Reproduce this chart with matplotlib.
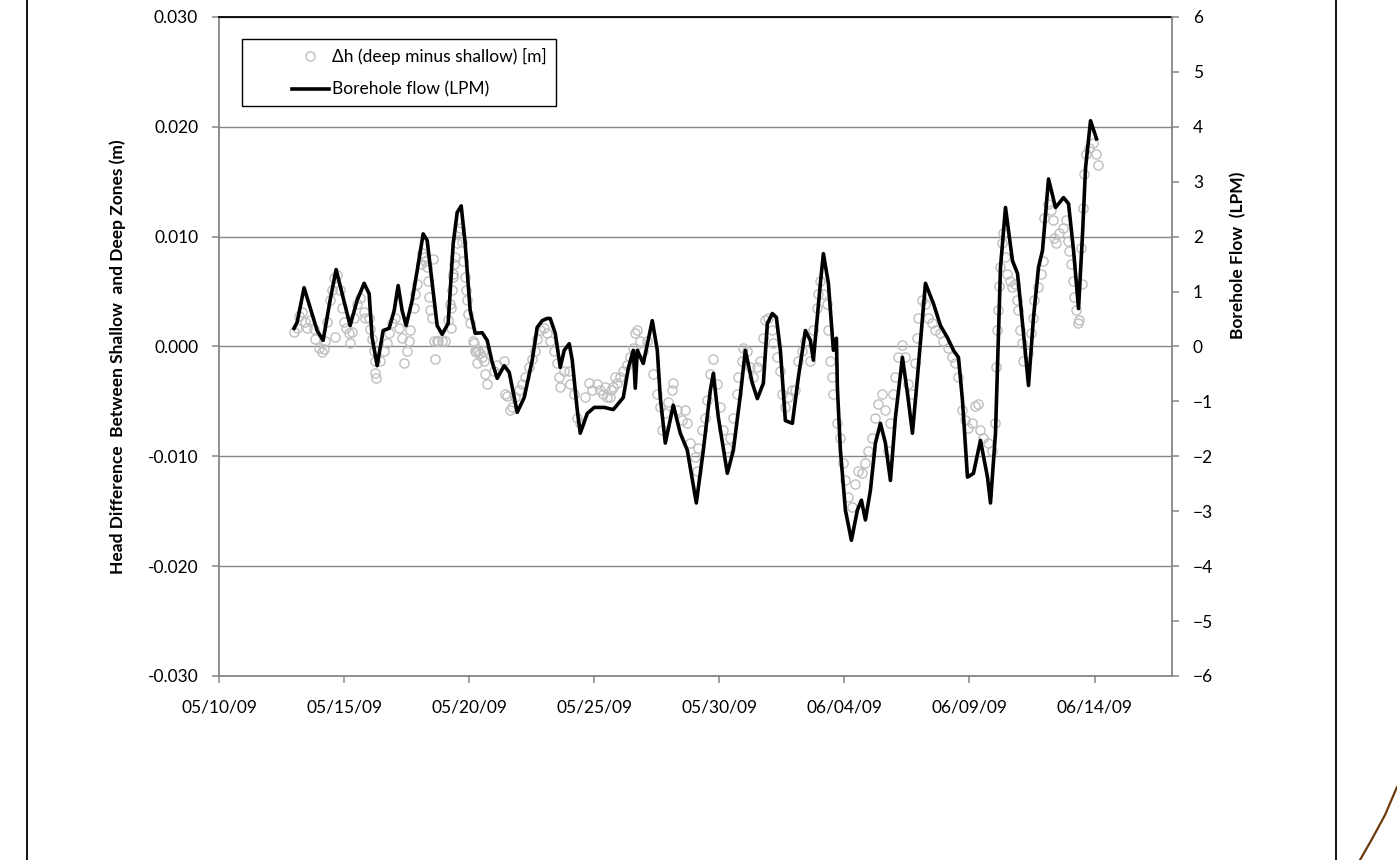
import numpy as np
import pandas as pd
import matplotlib
matplotlib.use("Agg")
import matplotlib.pyplot as plt
import matplotlib.dates as mdates
from matplotlib.lines import Line2D
from matplotlib.legend_handler import HandlerLine2D

plt.rcParams['font.family'] = ['Lato', 'DejaVu Sans']
plt.rcParams['font.size'] = 12

start = pd.Timestamp('2009-05-10')

# borehole flow meter, days after 05/10/09 and LPM
flow_day = [3.00, 3.12, 3.40, 3.64, 3.92, 4.16, 4.44, 4.68, 4.92, 5.24, 5.52, 5.80,
            6.00, 6.12, 6.32, 6.56, 6.80, 7.00, 7.16, 7.32, 7.48, 7.72, 7.92, 8.16,
            8.32, 8.52, 8.72, 8.92, 9.16, 9.36, 9.52, 9.68, 9.84, 10.04, 10.24, 10.52,
            10.72, 10.92, 11.12, 11.40, 11.60, 11.92, 12.20, 12.52, 12.72, 12.92, 13.12, 13.24,
            13.44, 13.64, 13.80, 14.00, 14.12, 14.32, 14.44, 14.72, 15.00, 15.40, 15.76, 16.16,
            16.36, 16.56, 16.64, 16.72, 16.96, 17.32, 17.52, 17.64, 17.84, 18.16, 18.44, 18.72,
            19.08, 19.36, 19.64, 19.76, 19.96, 20.32, 20.56, 20.84, 21.04, 21.32, 21.52, 21.76,
            21.92, 22.12, 22.28, 22.44, 22.64, 22.92, 23.16, 23.44, 23.64, 23.76, 24.04, 24.16,
            24.36, 24.56, 24.68, 24.72, 24.84, 25.04, 25.28, 25.52, 25.68, 25.84, 26.04, 26.24,
            26.44, 26.64, 26.84, 27.04, 27.32, 27.52, 27.72, 27.92, 28.24, 28.56, 28.84, 29.12,
            29.36, 29.56, 29.72, 29.92, 30.16, 30.44, 30.72, 30.84, 31.04, 31.24, 31.44, 31.72,
            31.92, 32.16, 32.36, 32.56, 32.76, 32.92, 33.16, 33.44, 33.76, 33.96, 34.16, 34.36,
            34.52, 34.64, 34.84, 35.08]
flow_lpm = [0.33, 0.44, 1.07, 0.71, 0.29, 0.11, 0.84, 1.40, 0.96, 0.38, 0.84, 1.15,
            0.96, 0.16, -0.35, 0.29, 0.33, 0.65, 1.11, 0.65, 0.38, 0.84, 1.38, 2.05,
            1.93, 1.15, 0.38, 0.22, 0.42, 1.87, 2.44, 2.56, 1.87, 0.65, 0.24, 0.25,
            0.11, -0.29, -0.58, -0.35, -0.47, -1.20, -0.93, -0.25, 0.35, 0.47, 0.51, 0.51,
            0.24, -0.38, -0.07, 0.05, -0.25, -1.16, -1.58, -1.22, -1.11, -1.11, -1.15, -0.93,
            -0.40, -0.07, -0.76, -0.07, -0.31, 0.47, -0.07, -0.93, -1.76, -1.07, -1.58, -1.89,
            -2.85, -1.89, -0.80, -0.49, -1.29, -2.31, -1.89, -0.89, -0.07, -0.67, -0.95, -0.67,
            0.42, 0.60, 0.53, -0.07, -1.35, -1.40, -0.56, 0.29, 0.11, -0.25, 1.15, 1.69,
            1.15, -0.07, 0.15, -0.75, -1.89, -2.98, -3.53, -2.98, -2.80, -3.16, -2.62, -1.76,
            -1.40, -1.76, -2.44, -1.29, -0.20, -0.85, -1.58, -0.56, 1.15, 0.78, 0.38, 0.16,
            -0.07, -0.20, -0.98, -2.38, -2.31, -1.71, -2.38, -2.85, -1.58, 1.44, 2.53, 1.56,
            1.33, 0.24, -0.71, 0.53, 1.44, 1.75, 3.05, 2.53, 2.71, 2.60, 1.75, 0.69,
            2.05, 3.25, 4.11, 3.78]

# head difference deep minus shallow, days after 05/10/09 and metres
dh_day = [3.00, 3.12, 3.20, 3.32, 3.44, 3.52, 3.64, 3.80, 3.84, 4.00, 4.12, 4.20,
          4.24, 4.32, 4.44, 4.52, 4.60, 4.64, 4.72, 4.84, 4.92, 5.00, 5.08, 5.20,
          5.24, 5.32, 5.40, 5.52, 5.64, 5.80, 5.84, 6.00, 6.04, 6.12, 6.20, 6.22,
          6.24, 6.28, 6.44, 6.60, 6.72, 6.80, 6.92, 7.04, 7.20, 7.32, 7.40, 7.52,
          7.60, 7.64, 7.80, 7.84, 7.92, 8.08, 8.12, 8.20, 8.24, 8.32, 8.36, 8.40,
          8.44, 8.52, 8.56, 8.58, 8.64, 8.72, 8.76, 8.92, 9.04, 9.16, 9.24, 9.26,
          9.28, 9.32, 9.34, 9.36, 9.38, 9.44, 9.52, 9.56, 9.64, 9.72, 9.76, 9.84,
          9.88, 9.92, 9.96, 10.04, 10.16, 10.20, 10.24, 10.26, 10.32, 10.36, 10.44, 10.52,
          10.56, 10.60, 10.64, 10.72, 11.00, 11.12, 11.40, 11.44, 11.52, 11.64, 11.72, 11.84,
          12.00, 12.12, 12.24, 12.40, 12.52, 12.64, 12.72, 12.84, 13.00, 13.12, 13.24, 13.40,
          13.52, 13.60, 13.64, 13.80, 14.00, 14.04, 14.20, 14.32, 14.44, 14.64, 14.80, 14.92,
          15.12, 15.24, 15.36, 15.44, 15.52, 15.64, 15.66, 15.76, 15.84, 15.92, 16.04, 16.16,
          16.32, 16.44, 16.56, 16.64, 16.72, 16.84, 16.96, 17.12, 17.36, 17.52, 17.64, 17.72,
          17.84, 17.96, 18.12, 18.16, 18.32, 18.52, 18.64, 18.72, 18.84, 19.04, 19.12, 19.16,
          19.32, 19.44, 19.52, 19.64, 19.76, 19.92, 20.04, 20.16, 20.32, 20.44, 20.56, 20.72,
          20.76, 20.92, 20.96, 21.12, 21.24, 21.36, 21.52, 21.64, 21.76, 21.84, 21.96, 22.12,
          22.16, 22.32, 22.44, 22.52, 22.64, 22.76, 22.92, 23.04, 23.16, 23.32, 23.44, 23.64,
          23.76, 23.92, 23.96, 24.04, 24.16, 24.32, 24.36, 24.44, 24.52, 24.56, 24.72, 24.84,
          24.96, 25.04, 25.16, 25.32, 25.44, 25.56, 25.72, 25.84, 25.96, 26.12, 26.24, 26.36,
          26.52, 26.64, 26.76, 26.84, 26.96, 27.04, 27.16, 27.32, 27.44, 27.56, 27.72, 27.84,
          27.92, 27.96, 28.12, 28.24, 28.36, 28.52, 28.64, 28.84, 28.96, 29.16, 29.32, 29.44,
          29.56, 29.72, 29.84, 29.96, 30.12, 30.24, 30.36, 30.44, 30.56, 30.76, 30.92, 31.04,
          31.06, 31.12, 31.16, 31.18, 31.24, 31.32, 31.36, 31.44, 31.52, 31.64, 31.72, 31.84,
          31.92, 31.96, 32.04, 32.12, 32.16, 32.32, 32.44, 32.52, 32.56, 32.72, 32.84, 32.92,
          32.96, 33.12, 33.24, 33.32, 33.36, 33.44, 33.56, 33.72, 33.84, 33.92, 33.96, 34.04,
          34.12, 34.16, 34.24, 34.32, 34.36, 34.44, 34.50, 34.52, 34.56, 34.64, 34.76, 34.92,
          35.04, 35.12]
dh_m = [0.0013, 0.0017, 0.0028, 0.0031, 0.0022, 0.0017, 0.0024, 0.0016, 0.0007, -0.0001, -0.0005, -0.0002,
        0.0005, 0.0022, 0.0042, 0.0051, 0.0062, 0.0009, 0.0065, 0.0051, 0.0035, 0.0022, 0.0017, 0.0012,
        0.0003, 0.0013, 0.0026, 0.0039, 0.0044, 0.0031, 0.0026, 0.0026, 0.0016, 0.0007, -0.0004, -0.0013,
        -0.0024, -0.0029, -0.0013, -0.0004, 0.0003, 0.0012, 0.0021, 0.0026, 0.0017, 0.0008, -0.0015, -0.0004,
        0.0005, 0.0015, 0.0035, 0.0048, 0.0057, 0.0075, 0.0085, 0.0081, 0.0078, 0.0072, 0.0060, 0.0045,
        0.0033, 0.0026, 0.0080, 0.0005, -0.0011, 0.0005, 0.0005, 0.0005, 0.0005, 0.0024, 0.0039, 0.0017,
        0.0035, 0.0051, 0.0063, 0.0066, 0.0075, 0.0081, 0.0094, 0.0105, 0.0108, 0.0095, 0.0078, 0.0063,
        0.0051, 0.0042, 0.0030, 0.0021, 0.0005, 0.0003, -0.0004, -0.0005, -0.0015, -0.0004, -0.0006, -0.0010,
        -0.0004, -0.0013, -0.0025, -0.0034, -0.0022, -0.0017, -0.0013, -0.0043, -0.0045, -0.0058, -0.0055, -0.0046,
        -0.0040, -0.0034, -0.0028, -0.0019, -0.0011, -0.0004, 0.0007, 0.0015, 0.0017, 0.0012, 0.0005, -0.0004,
        -0.0015, -0.0028, -0.0037, -0.0022, -0.0022, -0.0034, -0.0043, -0.0065, -0.0070, -0.0046, -0.0033, -0.0040,
        -0.0034, -0.0040, -0.0043, -0.0037, -0.0046, -0.0046, -0.0040, -0.0037, -0.0028, -0.0033, -0.0028, -0.0022,
        -0.0017, -0.0010, -0.0001, 0.0012, 0.0015, 0.0005, -0.0004, 0.0005, -0.0025, -0.0043, -0.0055, -0.0076,
        -0.0061, -0.0051, -0.0040, -0.0033, -0.0058, -0.0067, -0.0058, -0.0070, -0.0088, -0.0101, -0.0113, -0.0092,
        -0.0076, -0.0065, -0.0049, -0.0025, -0.0011, -0.0034, -0.0055, -0.0076, -0.0092, -0.0083, -0.0065, -0.0043,
        -0.0028, -0.0013, -0.0001, -0.0004, -0.0019, -0.0028, -0.0019, -0.0013, 0.0008, 0.0024, 0.0026, 0.0015,
        0.0003, -0.0010, -0.0022, -0.0043, -0.0055, -0.0046, -0.0040, -0.0040, -0.0013, -0.0004, 0.0005, -0.0013,
        0.0015, 0.0035, 0.0048, 0.0060, 0.0048, 0.0039, 0.0015, -0.0013, -0.0028, -0.0043, -0.0070, -0.0083,
        -0.0106, -0.0122, -0.0137, -0.0146, -0.0125, -0.0113, -0.0115, -0.0106, -0.0095, -0.0083, -0.0065, -0.0052,
        -0.0043, -0.0058, -0.0095, -0.0070, -0.0043, -0.0028, -0.0010, 0.0001, -0.0010, -0.0034, -0.0043, -0.0015,
        0.0008, 0.0026, 0.0042, 0.0039, 0.0026, 0.0021, 0.0015, 0.0012, 0.0005, -0.0001, -0.0010, -0.0015,
        -0.0028, -0.0058, -0.0067, -0.0074, -0.0070, -0.0054, -0.0052, -0.0076, -0.0083, -0.0088, -0.0095, -0.0070,
        -0.0019, 0.0015, 0.0033, 0.0055, 0.0072, 0.0094, 0.0103, 0.0081, 0.0066, 0.0060, 0.0054, 0.0057,
        0.0042, 0.0033, 0.0015, 0.0003, -0.0013, -0.0006, 0.0012, 0.0026, 0.0042, 0.0054, 0.0066, 0.0078,
        0.0117, 0.0130, 0.0124, 0.0115, 0.0099, 0.0094, 0.0103, 0.0108, 0.0115, 0.0096, 0.0087, 0.0075,
        0.0060, 0.0045, 0.0033, 0.0021, 0.0024, 0.0090, 0.0057, 0.0126, 0.0157, 0.0175, 0.0181, 0.0185,
        0.0175, 0.0165]

dh_ticks = [-0.03, -0.02, -0.01, 0.0, 0.01, 0.02, 0.03]
flow_ticks = list(range(-6, 7))
date_ticks = pd.date_range('2009-05-10', '2009-06-14', freq='5D')

axis_grey = '#868686'

fig = plt.figure(figsize=(13.97, 8.6), dpi=100)
ax = fig.add_axes([0.1568, 0.214, 0.6822, 0.7663])
ax2 = ax.twinx()

t_dh = start + pd.to_timedelta(dh_day, unit='D')
t_flow = start + pd.to_timedelta(flow_day, unit='D')

h1, = ax.plot(t_dh, dh_m, 'o', mfc='none', mec='#bfbfbf', ms=6.6, mew=1.0,
              label='\u0394h (deep minus shallow) [m]')
h2, = ax2.plot(t_flow, flow_lpm, color='black', lw=2.6, solid_joinstyle='round',
               label='Borehole flow (LPM)')

ax.set_xlim(start, start + pd.Timedelta(days=38.1))
ax.set_ylim(-0.03, 0.03)
ax2.set_ylim(-6, 6)
ax.set_yticks(dh_ticks)
ax2.set_yticks(flow_ticks)
ax.yaxis.set_major_formatter(matplotlib.ticker.FormatStrFormatter('%.3f'))
ax.set_xticks(date_ticks)
ax.xaxis.set_major_formatter(mdates.DateFormatter('%m/%d/%y'))

ax.grid(axis='y', color=axis_grey, lw=1.0)
ax.grid(axis='x', visible=False)

for a in (ax, ax2):
    a.tick_params(direction='out', length=5, width=1.1, color=axis_grey, labelsize=12.5)
    for s in a.spines.values():
        s.set_visible(False)
ax.tick_params(axis='y', pad=10)
ax.tick_params(axis='x', pad=12)
ax2.tick_params(axis='y', pad=10)
for side in ('left', 'bottom'):
    ax.spines[side].set_visible(True)
    ax.spines[side].set_color(axis_grey)
    ax.spines[side].set_linewidth(1.3)
ax.spines['top'].set_visible(True)
ax.spines['top'].set_color('black')
ax.spines['top'].set_linewidth(1.3)
ax2.spines['right'].set_visible(True)
ax2.spines['right'].set_color(axis_grey)
ax2.spines['right'].set_linewidth(1.3)

ax.set_ylabel('Head Difference  Between Shallow  and Deep Zones (m)', fontweight='bold', fontsize=12.5)
ax.yaxis.set_label_coords(-0.0975, 0.484)
ax2.set_ylabel('Borehole Flow  (LPM)', fontweight='bold', fontsize=12.5)
ax2.yaxis.set_label_coords(1.061, 0.639)

leg = ax2.legend([h1, h2], [h1.get_label(), h2.get_label()], loc='upper left',
                 bbox_to_anchor=(0.024, 0.966), borderaxespad=0, fontsize=12.5,
                 fancybox=False, framealpha=1, edgecolor='black',
                 borderpad=0.5, labelspacing=0.95, handlelength=4.5, handletextpad=0.2,
                 handler_map={Line2D: HandlerLine2D(xpad=2.4)})
leg.get_frame().set_linewidth(1.0)

# page frame and corner flourish
W, H = 1397.0, 860.0
for xp in (27, 1336):
    fig.add_artist(Line2D([xp / W, xp / W], [0, 1], transform=fig.transFigure,
                          color='black', lw=1.3))
arc_x = np.array([1360, 1372, 1385, 1397]) / W
arc_y = 1 - np.array([860, 839, 815, 787]) / H
fig.add_artist(Line2D(arc_x, arc_y, transform=fig.transFigure, color='#6b3a0c', lw=1.6))

fig.savefig('out.png', dpi=100)
